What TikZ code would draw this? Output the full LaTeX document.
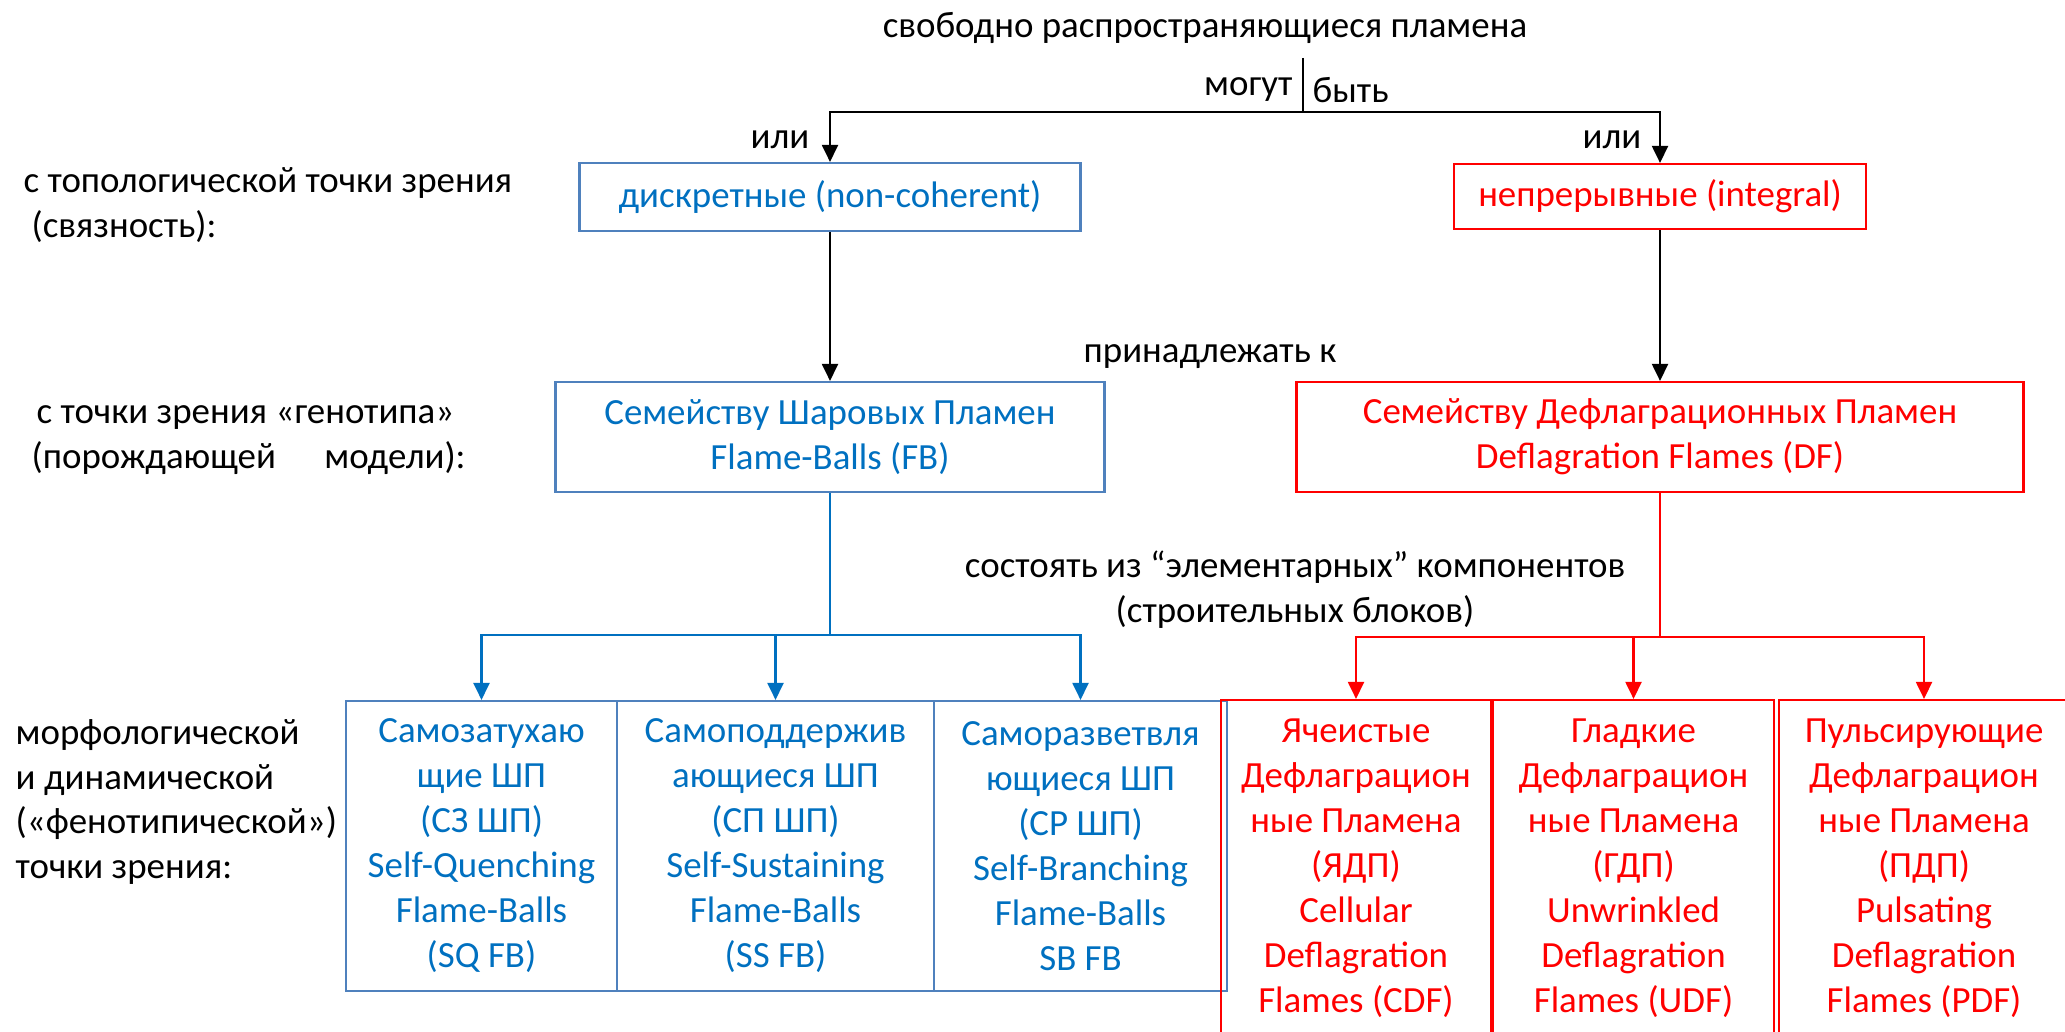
\documentclass[tikz,border=0pt]{standalone}
\usepackage{fontspec}
\setmainfont{Carlito}
\usetikzlibrary{arrows.meta}
\definecolor{boxblue}{RGB}{79,129,189}
\definecolor{textblue}{RGB}{0,112,192}

\begin{document}
\begin{tikzpicture}[
    font=\fontsize{10.5}{12.8}\selectfont,
    lbl/.style={inner sep=0pt, align=left, anchor=west},
    txt/.style={inner sep=0pt, align=center},
    bbox/.style={draw=boxblue, text=textblue, line width=0.6pt, inner sep=0pt, align=center},
    rbox/.style={draw=red, text=red, line width=0.6pt, inner sep=0pt, align=center},
    tip/.style={-{Triangle[width=1.6mm, length=1.7mm]}},
    link/.style={line width=0.6pt},
    blink/.style={link, textblue},
    rlink/.style={link, red},
]
    \useasboundingbox (0,0) rectangle (20.65,-10.31);
    \clip (0,0) rectangle (20.65,-10.31);

    % left column: points of view
    \node[lbl] (topo) at (0.23,-2.05) {с топологической точки зрения\\\hspace*{0.08cm}(связность):};
    \node[lbl] (geno) at (0.31,-4.40) {\hspace*{0.05cm}с точки зрения «генотипа»\\(порождающей\hspace{0.4cm} модели):};
    \node[lbl] (pheno) at (0.15,-8.02) {морфологической\\и динамической\\(«фенотипической»)\\точки зрения:};

    % top level
    \node[txt] (title) at (12.05,-0.28) {свободно распространяющиеся пламена};
    \coordinate (top) at (13.03,-0.58);
    \coordinate (split) at (13.03,-1.12);
    \node[txt, anchor=east] (mogut) at (12.93,-0.90) {могут};
    \node[txt, anchor=west] (byt) at (13.12,-0.90) {быть};
    \node[txt] (ili1) at (7.80,-1.40) {или};
    \node[txt] (ili2) at (16.12,-1.40) {или};

    \node[bbox, minimum width=5.01cm, minimum height=0.68cm] (disc) at (8.30,-1.97) {дискретные (non-coherent)};
    \node[rbox, minimum width=4.12cm, minimum height=0.65cm] (integ) at (16.60,-1.965) {непрерывные (integral)};

    \draw[link] (top) -- (split);
    \draw[link, tip] (split) -| (disc.north);
    \draw[link, tip] (split) -| (integ.north);

    % families
    \node[txt] (belong) at (12.10,-3.57) {принадлежать к};
    \node[bbox, minimum width=5.49cm, minimum height=1.10cm] (fb) at (8.30,-4.37) {Семейству Шаровых Пламен\\Flame-Balls (FB)};
    \node[rbox, minimum width=7.27cm, minimum height=1.10cm] (df) at (16.60,-4.37) {Семейству Дефлаграционных Пламен\\Deflagration Flames (DF)};

    \draw[link, tip] (disc.south) -- (fb.north);
    \draw[link, tip] (integ.south) -- (df.north);

    % building blocks
    \node[txt] (blocks) at (12.95,-5.90) {состоять из “элементарных” компонентов\\(строительных блоков)};

    \foreach \nm/\x/\w/\txt in {
        sq/4.815/2.71/{Самозатухаю\\щие ШП\\(СЗ ШП)\\Self-Quenching\\Flame-Balls\\(SQ FB)},
        ss/7.755/3.17/{Самоподдержив\\ающиеся ШП\\(СП ШП)\\Self-Sustaining\\Flame-Balls\\(SS FB)},
        sb/10.805/2.93/{Саморазветвля\\ющиеся ШП\\(СР ШП)\\Self-Branching\\Flame-Balls\\SB FB}} {
        \node[bbox, minimum width=\w cm, minimum height=2.90cm] (\nm) at (\x,-8.46) {\txt};
    }
    \foreach \nm/\x/\w/\txt in {
        cdf/13.56/2.70/{Ячеистые\\Дефлаграцион\\ные Пламена\\(ЯДП)\\Cellular\\Deflagration\\Flames (CDF)},
        udf/16.335/2.81/{Гладкие\\Дефлаграцион\\ные Пламена\\(ГДП)\\Unwrinkled\\Deflagration\\Flames (UDF)},
        pdf/19.24/2.90/{Пульсирующие\\Дефлаграцион\\ные Пламена\\(ПДП)\\Pulsating\\Deflagration\\Flames (PDF)}} {
        \node[rbox, minimum width=\w cm, minimum height=3.36cm] (\nm) at (\x,-8.68) {\txt};
    }

    \draw[blink] (fb.south) -- ++(0,-1.42) coordinate (fbsplit);
    \foreach \nm in {sq,ss,sb}
        \draw[blink, tip] (fbsplit) -| (\nm.north);
    \draw[rlink] (df.south) -- ++(0,-1.44) coordinate (dfsplit);
    \foreach \nm in {cdf,udf,pdf}
        \draw[rlink, tip] (dfsplit) -| (\nm.north);
\end{tikzpicture}
\end{document}
